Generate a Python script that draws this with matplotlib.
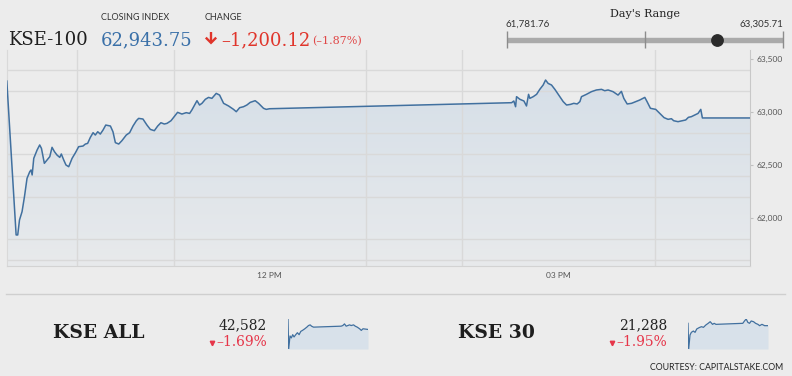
import numpy as np
import matplotlib.pyplot as plt
from matplotlib.lines import Line2D
from matplotlib.patches import PathPatch
from matplotlib.colors import LinearSegmentedColormap

# ---- data (minutes after 09:00, index points) ----
kse100_mins = [16.0, 21.8, 22.8, 23.9, 25.5, 27.0, 28.6, 30.3, 31.1, 31.8,
               32.8, 34.9, 36.5, 37.6, 39.4, 41.1, 42.8, 44.2, 45.7, 47.3,
               49.0, 50.0, 51.5, 52.9, 54.6, 56.7, 58.8, 60.8, 63.5, 65.0,
               66.4, 68.1, 69.8, 71.2, 72.7, 74.3, 76.0, 77.7, 80.6, 82.2,
               83.7, 85.8, 87.8, 90.5, 92.6, 94.7, 96.8, 98.2, 100.9, 103.4,
               105.5, 108.0, 110.1, 112.1, 114.2, 115.9, 118.4, 120.4, 122.5, 125.2,
               127.9, 130.0, 131.4, 134.6, 136.2, 137.7, 139.8, 141.8, 143.9, 146.6,
               148.7, 151.2, 154.3, 157.4, 159.1, 161.2, 163.6, 165.7, 167.8, 170.9,
               173.0, 176.1, 177.8, 179.8,
               330.8, 332.2, 333.3, 333.9, 336.0, 338.5, 340.1, 341.4, 342.2, 344.3,
               346.4, 348.4, 350.5, 352.0, 353.6, 355.7, 357.8, 360.9, 363.0, 365.1,
               367.5, 369.6, 371.7, 373.4, 374.4, 377.5, 380.6, 383.7, 386.9, 388.9,
               391.0, 394.1, 397.2, 399.3, 400.8, 402.9, 405.6, 408.3, 410.7, 413.9,
               415.3, 417.4, 420.7, 423.2, 425.9, 428.4, 430.5, 431.9, 434.6, 437.3,
               439.4, 441.1, 442.9, 445.0, 447.1, 448.8, 449.8, 480.0]
kse100_vals = [63292, 61840, 61840, 61981, 62060, 62201, 62374, 62437, 62453, 62406,
               62563, 62642, 62689, 62657, 62516, 62547, 62579, 62667, 62626, 62594,
               62572, 62604, 62547, 62500, 62484, 62563, 62616, 62673, 62679, 62698,
               62704, 62761, 62805, 62783, 62814, 62792, 62830, 62877, 62868, 62814,
               62711, 62698, 62730, 62783, 62805, 62868, 62918, 62940, 62934, 62877,
               62836, 62824, 62868, 62899, 62887, 62893, 62918, 62956, 62997, 62981,
               62994, 62987, 63019, 63107, 63066, 63082, 63120, 63138, 63129, 63176,
               63160, 63082, 63057, 63025, 63003, 63041, 63050, 63066, 63091, 63107,
               63082, 63035, 63025, 63031,
               63088, 63104, 63050, 63145, 63120, 63104, 63057, 63167, 63129, 63145,
               63167, 63214, 63255, 63302, 63270, 63255, 63214, 63145, 63098, 63066,
               63072, 63082, 63076, 63098, 63145, 63167, 63192, 63208, 63214, 63201,
               63208, 63192, 63160, 63195, 63129, 63076, 63082, 63098, 63113, 63138,
               63098, 63035, 63025, 62987, 62947, 62931, 62937, 62918, 62909, 62918,
               62925, 62950, 62956, 62972, 62987, 63025, 62944, 62944]

kseall_mins = [16, 19.9, 27.7, 35.5, 43.3, 51.1, 60.9, 70.6, 80.4, 90.1, 99.9,
               113.5, 125.2, 135.0, 144.7, 152.5, 164.2, 324.1, 333.9, 343.6, 353.4,
               363.1, 372.9, 382.6, 396.3, 406, 417.7, 431.4, 441.1, 450.9, 480]
kseall_vals = [42946, 41900, 42355, 42286, 42400, 42320, 42400, 42468, 42400, 42514, 42548,
               42605, 42662, 42718, 42741, 42696, 42662, 42696, 42718, 42775, 42696,
               42718, 42741, 42718, 42741, 42696, 42662, 42605, 42548, 42605, 42582]

kse30_mins = [16, 19.9, 27.7, 35.5, 47.2, 57, 66.7, 80.4, 94, 105.7, 119.4, 133, 144.7,
              158.4, 168.1, 177.9, 333.9, 343.6, 353.4, 363.1, 372.9, 382.6, 396.3,
              408, 421.6, 431.4, 445, 460.6, 480]
kse30_vals = [21327, 20900, 21133, 21177, 21199, 21177, 21233, 21255, 21271, 21260, 21299,
              21327, 21354, 21310, 21327, 21310, 21327, 21366, 21399, 21343, 21327, 21366,
              21354, 21327, 21310, 21288, 21310, 21288, 21288]

closing = 62943.75
change = -1200.12
change_pct = -1.87
day_low, day_high = 61781.76, 63305.71
y_labels = [62000, 62500, 63000, 63500]
y_grid = list(range(61600, 63600, 200))
x_tick_mins = [180, 360]
x_tick_labels = ['12 PM', '03 PM']

BG = '#ececec'
BLUE = '#41709f'
RED = '#e0352b'
SERIF = 'DejaVu Serif'
SANS = 'Lato'

W, H = 792, 376
def fx(x): return x / W
def fy(y): return 1 - y / H

fig = plt.figure(figsize=(7.92, 3.76), dpi=100, facecolor=BG)

# ---- main chart ----
ax = fig.add_axes([fx(6.5), fy(266), fx(750) - fx(6.5), fy(49.5) - fy(266)])
ax.set_facecolor(BG)
x0, x1 = 15.8, 479.5
y0, y1 = 61547, 63590
ax.set_xlim(x0, x1)
ax.set_ylim(y0, y1)

poly = ax.fill_between(kse100_mins, kse100_vals, y0, facecolor='none', edgecolor='none')
clip = PathPatch(poly.get_paths()[0], transform=ax.transData, facecolor='none', edgecolor='none')
ax.add_patch(clip)
cmap = LinearSegmentedColormap.from_list('g', ['#e8eaec', '#d6dfe8'])
grad = np.linspace(0, 1, 256).reshape(-1, 1)
im = ax.imshow(grad, extent=[x0, x1, y0, max(kse100_vals)], origin='lower',
               aspect='auto', cmap=cmap, zorder=1)
im.set_clip_path(clip)
ax.plot(kse100_mins, kse100_vals, color=BLUE, lw=1.1, zorder=3)

ax.set_yticks(y_labels)
ax.set_yticklabels([f'{v:,}' for v in y_labels], family=SANS)
ax.set_yticks(y_grid, minor=True)
ax.set_xticks(x_tick_mins)
ax.set_xticklabels(x_tick_labels, family=SANS)
ax.set_xticks(range(60, 480, 60), minor=True)
ax.set_axisbelow('line')
ax.grid(which='minor', color='#d9d9d9', lw=1)
ax.yaxis.tick_right()
ax.tick_params(axis='y', which='major', length=2.4, color='#c0c0c0', pad=2.4,
               labelsize=6, labelcolor='#555555')
ax.tick_params(axis='x', which='major', length=0, pad=4.5, labelsize=6, labelcolor='#555555')
ax.tick_params(which='minor', length=0)
ax.spines['top'].set_visible(False)
ax.spines['left'].set_color('#d9d9d9')
ax.spines['right'].set_color('#c8c8c8')
ax.spines['bottom'].set_color('#d3d3d3')

# ---- header ----
fig.text(fx(8), fy(45), 'KSE-100', family=SERIF, fontsize=13, color='#1e1e1e', va='baseline')
fig.text(fx(101), fy(18), 'CLOSING INDEX', family=SANS, fontsize=6.5, color='#333333', va='center')
fig.text(fx(101), fy(45), f'{closing:,.2f}', family=SERIF, fontsize=13, color='#3a70a8', va='baseline')
fig.text(fx(205), fy(18), 'CHANGE', family=SANS, fontsize=6.5, color='#333333', va='center')
# down arrow
fig.add_artist(Line2D([fx(211), fx(211)], [fy(32), fy(43)], color=RED, lw=1.7,
                      solid_capstyle='butt'))
fig.add_artist(Line2D([fx(205.8), fx(211), fx(216.2)], [fy(37.6), fy(42.8), fy(37.6)],
                      color=RED, lw=1.7, solid_joinstyle='miter', solid_capstyle='butt'))
fig.text(fx(221), fy(45), f'{change:,.2f}'.replace('-', '\u2013'), family=SERIF, fontsize=13,
         color=RED, va='baseline')
fig.text(fx(312), fy(44), f'({change_pct:.2f}%)'.replace('-', '\u2013'), family=SERIF,
         fontsize=8, color='#e04848', va='baseline')

fig.text(fx(645), fy(14), "Day's Range", family=SERIF, fontsize=8, color='#222222',
         ha='center', va='center')
fig.text(fx(506), fy(24), f'{day_low:,.2f}', family=SANS, fontsize=7, color='#333333', va='center')
fig.text(fx(783), fy(24), f'{day_high:,.2f}', family=SANS, fontsize=7, color='#333333',
         va='center', ha='right')

rax = fig.add_axes([fx(506.7), fy(48), fx(783) - fx(506.7), fy(31) - fy(48)])
rax.set_xlim(day_low, day_high)
rax.set_ylim(0, 1)
rax.axis('off')
rax.plot([day_low, day_high], [0.5, 0.5], color='#aaaaaa', lw=3.9, solid_capstyle='butt', clip_on=False)
rax.vlines([day_low, (day_low + day_high) / 2, day_high], 0, 1, color='#8c8c8c', lw=1, clip_on=False)
rax.plot([closing], [0.5], 'o', ms=8.2, color='#2b2b2b', clip_on=False)

# ---- bottom section ----
fig.add_artist(Line2D([fx(6), fx(785)], [fy(294), fy(294)], color='#cfcfcf', lw=1))

def index_block(name, name_x, value, pct, right_x, tri_x, sx, mins, vals):
    fig.text(fx(name_x), fy(333), name, family=SERIF, fontsize=13.5, fontweight='bold',
             color='#1e1e1e', ha='center', va='center')
    fig.text(fx(right_x), fy(325), f'{value:,}', family=SERIF, fontsize=10, color='#222222',
             ha='right', va='center')
    fig.text(fx(right_x), fy(342), f'{pct:.2f}%'.replace('-', '\u2013'), family=SERIF,
             fontsize=10, color='#e6364a', ha='right', va='center')
    fig.add_artist(Line2D([fx(tri_x)], [fy(343)], marker='v', ms=3.2, color='#e6364a', lw=0))
    sax = fig.add_axes([fx(sx), fy(349), fx(80), 30 / H])
    sax.fill_between(mins, vals, min(vals), color='#d8e1ea', lw=0)
    sax.plot(mins, vals, color=BLUE, lw=0.9)
    sax.set_xlim(16, 480)
    sax.set_ylim(min(vals), max(vals))
    sax.axis('off')

index_block('KSE ALL', 99, 42582, -1.69, 267, 212, 288, kseall_mins, kseall_vals)
index_block('KSE 30', 496, 21288, -1.95, 667, 612, 688, kse30_mins, kse30_vals)

fig.text(fx(783), fy(367), 'COURTESY: CAPITALSTAKE.COM', family=SANS, fontsize=6.3,
         color='#222222', ha='right', va='center')

fig.savefig('out.png', dpi=100, facecolor=BG)
